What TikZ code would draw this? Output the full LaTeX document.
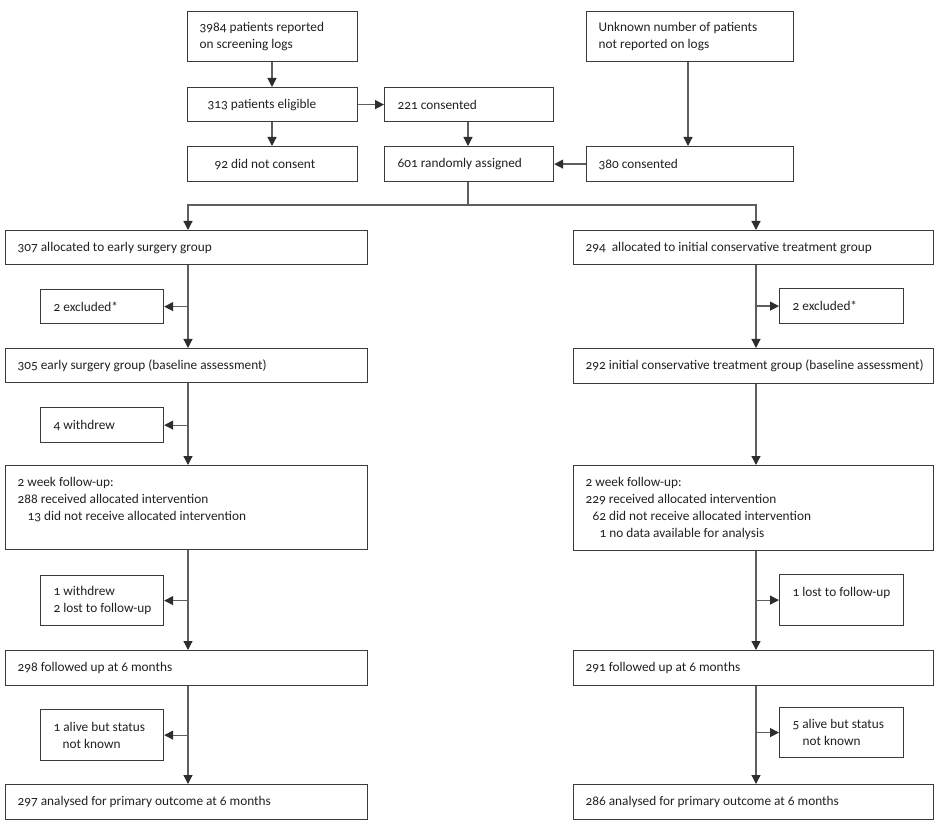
\documentclass[tikz,border=0pt]{standalone}
\usepackage{fontspec}
\setmainfont[Numbers=OldStyle]{Carlito}
\usetikzlibrary{arrows.meta}
\definecolor{boxc}{HTML}{3A3A3A}
\definecolor{linec}{HTML}{5E5E5E}
\definecolor{tipc}{HTML}{2E2E2E}
\definecolor{txtc}{HTML}{231F20}
\newcommand\bx[7]{%
  \pgfmathsetmacro\bw{#4-#2}\pgfmathsetmacro\bh{#5-#3}\pgfmathsetmacro\tw{#4-#2-#6}%
  \node[box, minimum width=\bw pt, minimum height=\bh pt] (#1) at (#2,#3)
    {\hspace*{#6pt}\parbox{\tw pt}{\raggedright\hyphenpenalty=10000\exhyphenpenalty=10000 #7}};}
\begin{document}
\begin{tikzpicture}[x=1pt,y=-1pt,
  box/.style={draw=boxc, line width=1.2pt, rectangle, inner sep=0pt, anchor=north west,
    font=\fontsize{13.3}{17}\selectfont, text=txtc},
  conn/.style={draw=linec, line width=1.2pt},
  arr/.style={conn, -{Triangle[length=9pt,width=9pt,color=tipc]}}]
\useasboundingbox (0,0) rectangle (943,826);
% top
\bx{A}{187}{11}{357}{61}{12}{3984 patients reported\\on screening logs}
\bx{B}{187}{87}{357}{121}{20}{313 patients eligible}
\bx{C}{187}{146}{357}{181}{27}{92 did not consent}
\bx{D}{384}{87}{553}{121}{13}{221 consented}
\bx{E}{384}{146}{553}{181}{13}{601 randomly assigned}
\bx{F}{586}{11}{793}{61}{12}{Unknown number of patients\\not reported on logs}
\bx{G}{586}{146}{793}{181}{12}{380 consented}
% left column
\bx{H}{5}{230}{367}{264}{12}{307 allocated to early surgery group}
\bx{I}{40}{289}{163}{323}{13}{2 excluded*}
\bx{J}{5}{348}{367}{382}{12}{305 early surgery group (baseline assessment)}
\bx{Wl}{40}{407}{163}{442}{13}{4 withdrew}
\bx{TL}{5}{465}{367}{549}{12}{2 week follow-up:\\288 received allocated intervention\\\hspace*{10pt}13 did not receive allocated intervention\\\mbox{}}
\bx{LL}{40}{575}{163}{625}{13}{1 withdrew\\2 lost to follow-up}
\bx{SL}{5}{650}{367}{685}{12}{298 followed up at 6 months}
\bx{AL}{40}{709}{163}{760}{13}{1 alive but status\\\hspace*{9pt}not known}
\bx{PL}{5}{784}{367}{819}{12}{297 analysed for primary outcome at 6 months}
% right column
\bx{K}{573}{230}{933}{264}{12}{294 \ allocated to initial conservative treatment group}
\bx{Ir}{779}{288}{903}{323}{13}{2 excluded*}
\bx{M}{573}{348}{933}{383}{12}{292 initial conservative treatment group (baseline assessment)}
\bx{TR}{573}{465}{933}{550}{12}{2 week follow-up:\\229 received allocated intervention\\\hspace*{7pt}62 did not receive allocated intervention\\\hspace*{14pt}1 no data available for analysis}
\bx{LR}{779}{574}{903}{625}{13}{1 lost to follow-up\\\mbox{}}
\bx{SR}{573}{650}{933}{685}{12}{291 followed up at 6 months}
\bx{AR}{779}{707}{903}{757}{13}{5 alive but status\\\hspace*{10pt}not known}
\bx{PR}{573}{784}{933}{819}{12}{286 analysed for primary outcome at 6 months}
% connectors top
\coordinate (xa) at (272,0);
\coordinate (xd) at (468,0);
\coordinate (xf) at (688,0);
\coordinate (lc) at (188,0);
\coordinate (rc) at (756,0);
\coordinate (split) at (468,205);
\draw[arr] (xa |- A.south) -- (xa |- B.north);
\draw[arr] (xa |- B.south) -- (xa |- C.north);
\draw[arr] (B.east) -- (D.west);
\draw[arr] (xd |- D.south) -- (xd |- E.north);
\draw[arr] (xf |- F.south) -- (xf |- G.north);
\draw[arr] (G.west) -- (E.east);
\draw[conn] (xd |- E.south) -- (split);
\draw[arr] (split) -| (lc |- H.north);
\draw[arr] (split) -| (rc |- K.north);
% left column connectors
\draw[arr] (lc |- H.south) -- (lc |- J.north);
\draw[arr] (lc |- I.east) -- (I.east);
\draw[arr] (lc |- J.south) -- (lc |- TL.north);
\draw[arr] (lc |- Wl.east) -- (Wl.east);
\draw[arr] (lc |- TL.south) -- (lc |- SL.north);
\draw[arr] (lc |- LL.east) -- (LL.east);
\draw[arr] (lc |- SL.south) -- (lc |- PL.north);
\draw[arr] (lc |- AL.east) -- (AL.east);
% right column connectors
\draw[arr] (rc |- K.south) -- (rc |- M.north);
\draw[arr] (rc |- Ir.west) -- (Ir.west);
\draw[arr] (rc |- M.south) -- (rc |- TR.north);
\draw[arr] (rc |- TR.south) -- (rc |- SR.north);
\draw[arr] (rc |- LR.west) -- (LR.west);
\draw[arr] (rc |- SR.south) -- (rc |- PR.north);
\draw[arr] (rc |- AR.west) -- (AR.west);
\end{tikzpicture}
\end{document}
